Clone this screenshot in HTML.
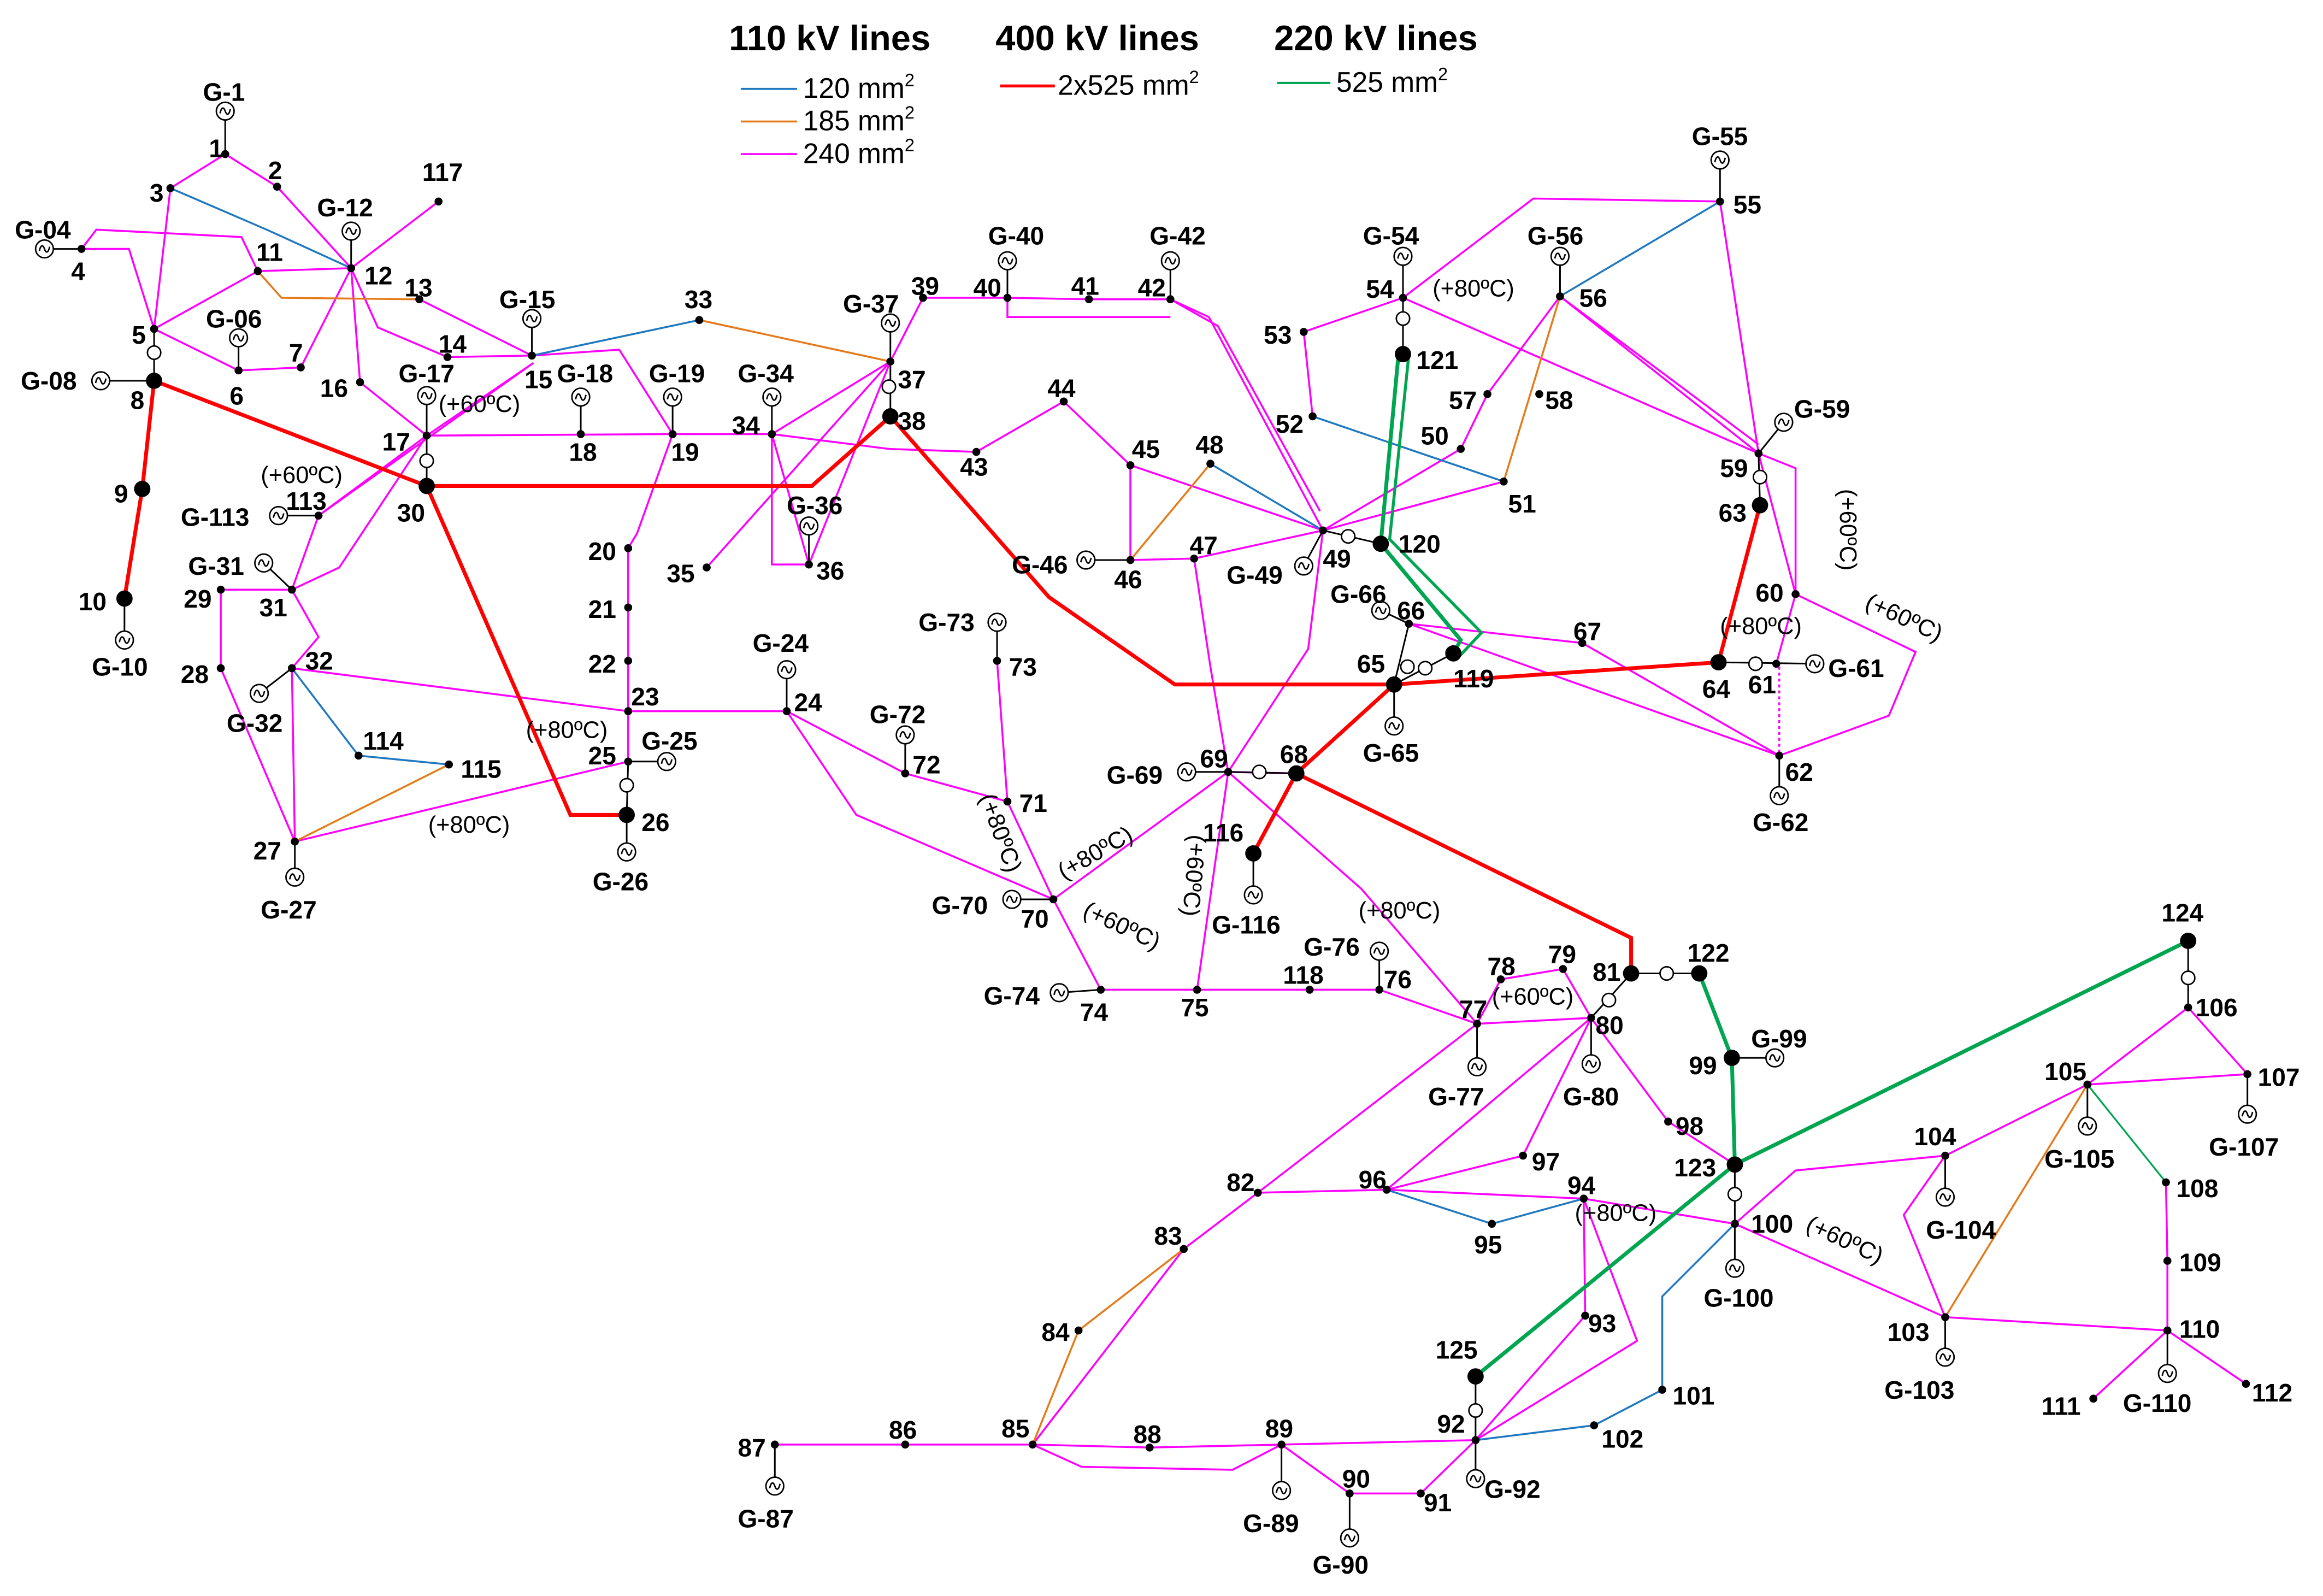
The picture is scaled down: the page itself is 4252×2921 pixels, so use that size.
<!DOCTYPE html>
<html><head><meta charset="utf-8"><style>
html,body{margin:0;padding:0;background:#fff}
svg{display:block}
text{font-family:"Liberation Sans",sans-serif;font-weight:bold;font-size:17px;fill:#000}
.t{font-weight:normal;font-size:16px}
.m{stroke:#f0f;stroke-width:1.3;fill:none}
.b{stroke:#1f78c0;stroke-width:1.3;fill:none}
.o{stroke:#e57a1a;stroke-width:1.3;fill:none}
.r{stroke:#f00;stroke-width:2.6;fill:none}
.g{stroke:#00a550;stroke-width:2.6;fill:none}
.k{stroke:#000;stroke-width:1.1;fill:none}
</style></head><body>
<svg width="4252" height="2921" viewBox="0 0 1568 1077.2" xmlns="http://www.w3.org/2000/svg">
<defs>
<g id="G"><circle r="6" fill="#fff" stroke="#000" stroke-width="1"/><path d="M-3.5,1.5 C-2.5,-3 -1,-3 0,0 C1,3 2.5,3 3.5,-1.5" stroke="#000" stroke-width="1" fill="none"/></g>
<g id="T"><circle r="4.5" fill="#fff" stroke="#000" stroke-width="1"/></g>
</defs>
<!-- legend -->
<text x="492" y="34" style="font-size:24px">110 kV lines</text>
<text x="672" y="34" style="font-size:24px">400 kV lines</text>
<text x="860" y="34" style="font-size:24px">220 kV lines</text>
<line x1="500" y1="60" x2="538" y2="60" class="b"/><text x="542" y="66" class="t" style="font-size:19px">120 mm<tspan dy="-8" font-size="12">2</tspan></text>
<line x1="500" y1="82" x2="538" y2="82" class="o"/><text x="542" y="88" class="t" style="font-size:19px">185 mm<tspan dy="-8" font-size="12">2</tspan></text>
<line x1="500" y1="104" x2="538" y2="104" class="m"/><text x="542" y="110" class="t" style="font-size:19px">240 mm<tspan dy="-8" font-size="12">2</tspan></text>
<line x1="675" y1="58" x2="712" y2="58" class="r" style="stroke-width:2"/><text x="714" y="64" class="t" style="font-size:19px">2x525 mm<tspan dy="-8" font-size="12">2</tspan></text>
<line x1="862" y1="56" x2="898" y2="56" class="g" style="stroke-width:1.5"/><text x="902" y="62" class="t" style="font-size:19px">525 mm<tspan dy="-8" font-size="12">2</tspan></text>

<!-- magenta lines -->
<g class="m">
<polyline points="115,127 152,104 187,126 237,181 296,136"/>
<polyline points="115,127 104,222"/>
<polyline points="55,168 65,155 163,160 174,183 237,181"/>
<polyline points="55,168 87,168 104,222 174,183"/>
<polyline points="104,222 161,250 203,248 237,181 243,258 288,294"/>
<polyline points="237,181 255,221 302,241 359,240"/>
<polyline points="283,202 359,240 418,236 454,293"/>
<polyline points="288,294 454,293 521,293 601,244 623,201 680,201"/>
<polyline points="680,201 680,214 735,214 790,214"/>
<polyline points="680,201 735,202 790,202"/>
<polyline points="790,202 816,214 893,358"/>
<polyline points="790,202 822,220 891,345"/>
<polyline points="521,293 600,303 659,305 718,271 763,314 893,358"/>
<polyline points="763,314 763,378 806,377 893,358"/>
<polyline points="806,377 817,450 829,521 875,522"/>
<polyline points="893,358 883,438 829,521 711,607 743,668 808,668 884,668 931,668 997,691"/>
<polyline points="808,668 829,521"/>
<polyline points="829,521 919,600 997,691"/>
<polyline points="711,607 680,541 673,446"/>
<polyline points="680,541 611,522 531,480 578,550 711,607"/>
<polyline points="424,480 531,480"/>
<polyline points="454,293 430,360 424,370 424,480 424,514"/>
<polyline points="197,451 424,480"/>
<polyline points="199,568 424,514"/>
<polyline points="521,293 521,381 546,381 521,293"/>
<polyline points="477,383 601,244 546,381"/>
<polyline points="215,348 360,245 288,294 229,383 197,398"/>
<polyline points="288,294 215,348 197,398 149,398 149,451 199,568 197,451 215,430 197,398"/>
<polyline points="886,281 880,224 947,201 1035,134 1161,136 1187,306"/>
<polyline points="947,201 1187,306 1053,200"/>
<polyline points="1053,200 1187,300"/>
<polyline points="1053,200 1004,266 986,303 893,358 1015,325"/>
<polyline points="1187,306 1212,316 1212,401 1293,440 1275,483 1201,510"/>
<polyline points="1187,306 1212,401"/>
<polyline points="1212,401 1199,448"/>
<polyline points="951,421 1068,434 1201,510 951,421"/>
<polyline points="997,691 1013,661 1055,654 1074,687 997,691"/>
<polyline points="1074,687 1126,757 1171,786"/>
<polyline points="1074,687 936,803 1028,780 1074,687"/>
<polyline points="997,691 849,805 799,843 697,975 611,975 523,975"/>
<polyline points="697,975 776,977 865,975 996,972 1070,888 1069,809 1105,905 996,972"/>
<polyline points="697,975 730,990 832,992 865,975"/>
<polyline points="865,975 911,1008 959,1008 996,972"/>
<polyline points="849,805 936,803 1069,809 1171,826 1313,889 1463,898 1516,934"/>
<polyline points="1463,898 1413,944"/>
<polyline points="1171,826 1212,790 1313,780 1409,732 1477,680 1517,725 1409,732"/>
<polyline points="1313,780 1285,820 1313,889"/>
<polyline points="1462,798 1463,851 1463,898"/>
</g>
<line x1="1201" y1="450" x2="1201" y2="510" stroke="#f0f" stroke-width="1.3" stroke-dasharray="2,2"/>
<!-- blue -->
<g class="b">
<polyline points="115,127 180,155 237,181"/>
<polyline points="359,240 472,216"/>
<polyline points="197,451 242,510 303,516"/>
<polyline points="886,281 1015,325"/>
<polyline points="817,313 893,358"/>
<polyline points="1053,200 1161,136"/>
<polyline points="936,803 1007,826 1069,809"/>
<polyline points="1171,826 1122,875 1122,938 1076,962 996,972"/>
</g>
<!-- orange -->
<g class="o">
<polyline points="174,183 190,201 283,202"/>
<polyline points="472,216 601,244"/>
<polyline points="199,568 303,516"/>
<polyline points="763,378 817,313"/>
<polyline points="1053,200 1015,325"/>
<polyline points="799,843 728,898 697,975"/>
<polyline points="1409,732 1313,889"/>
</g>
<line x1="1409" y1="732" x2="1462" y2="798" stroke="#00a550" stroke-width="1.2"/>
<!-- green -->
<g class="g">
<polyline points="944,239 932,367 986,432 981,441"/>
<polyline points="951,239 938,364 1000,427 985,443" style="stroke-width:2"/>
<polyline points="1147,657 1169,714 1171,786 1477,635"/>
<polyline points="1171,786 996,929"/>
</g>
<!-- red -->
<g class="r">
<polyline points="84,404 96,330 104,257 288,328 548,328 601,281 708,403 793,462 941,462 1160,447 1188,341"/>
<polyline points="288,328 385,550 423,550"/>
<polyline points="846,576 875,522 941,462"/>
<polyline points="875,522 1101,633 1101,657"/>
</g>
<!-- black connectors -->
<g class="k">
<line x1="152" y1="104" x2="152" y2="75"/>
<line x1="55" y1="168" x2="30" y2="168"/>
<line x1="161" y1="250" x2="161" y2="228"/>
<line x1="104" y1="222" x2="104" y2="257"/>
<line x1="104" y1="257" x2="68" y2="257"/>
<line x1="84" y1="404" x2="84" y2="432"/>
<line x1="237" y1="181" x2="237" y2="156"/>
<line x1="359" y1="240" x2="359" y2="215"/>
<line x1="288" y1="294" x2="288" y2="328"/>
<line x1="288" y1="294" x2="288" y2="267"/>
<line x1="392" y1="293" x2="392" y2="268"/>
<line x1="454" y1="293" x2="454" y2="268"/>
<line x1="521" y1="293" x2="521" y2="268"/>
<line x1="546" y1="381" x2="546" y2="355"/>
<line x1="601" y1="244" x2="601" y2="218"/>
<line x1="601" y1="244" x2="601" y2="281"/>
<line x1="424" y1="514" x2="450" y2="514"/>
<line x1="424" y1="514" x2="423" y2="550"/>
<line x1="423" y1="550" x2="423" y2="575"/>
<line x1="531" y1="480" x2="531" y2="452"/>
<line x1="199" y1="568" x2="199" y2="592"/>
<line x1="197" y1="398" x2="178" y2="380"/>
<line x1="197" y1="451" x2="175" y2="468"/>
<line x1="215" y1="348" x2="188" y2="348"/>
<line x1="680" y1="201" x2="680" y2="176"/>
<line x1="790" y1="202" x2="790" y2="176"/>
<line x1="763" y1="378" x2="733" y2="378"/>
<line x1="893" y1="358" x2="932" y2="367"/>
<line x1="893" y1="358" x2="880" y2="382"/>
<line x1="947" y1="201" x2="947" y2="173"/>
<line x1="947" y1="201" x2="947" y2="239"/>
<line x1="1161" y1="136" x2="1161" y2="108"/>
<line x1="1053" y1="200" x2="1053" y2="173"/>
<line x1="1187" y1="306" x2="1204" y2="285"/>
<line x1="1187" y1="306" x2="1188" y2="341"/>
<line x1="1160" y1="447" x2="1225" y2="448"/>
<line x1="1201" y1="510" x2="1201" y2="537"/>
<line x1="941" y1="462" x2="941" y2="490"/>
<line x1="951" y1="421" x2="932" y2="412"/>
<line x1="951" y1="421" x2="941" y2="462"/>
<line x1="941" y1="462" x2="981" y2="441"/>
<line x1="829" y1="521" x2="875" y2="522"/>
<line x1="829" y1="521" x2="801" y2="521"/>
<line x1="846" y1="576" x2="846" y2="604"/>
<line x1="711" y1="607" x2="683" y2="607"/>
<line x1="611" y1="522" x2="611" y2="496"/>
<line x1="673" y1="446" x2="673" y2="420"/>
<line x1="743" y1="668" x2="715" y2="670"/>
<line x1="931" y1="668" x2="931" y2="642"/>
<line x1="997" y1="691" x2="997" y2="720"/>
<line x1="1074" y1="687" x2="1074" y2="718"/>
<line x1="1074" y1="687" x2="1101" y2="657"/>
<line x1="1101" y1="657" x2="1147" y2="657"/>
<line x1="1169" y1="714" x2="1198" y2="714"/>
<line x1="1171" y1="786" x2="1171" y2="856"/>
<line x1="523" y1="975" x2="523" y2="1003"/>
<line x1="865" y1="975" x2="865" y2="1006"/>
<line x1="911" y1="1008" x2="911" y2="1038"/>
<line x1="996" y1="929" x2="996" y2="998"/>
<line x1="1313" y1="889" x2="1313" y2="916"/>
<line x1="1313" y1="780" x2="1313" y2="808"/>
<line x1="1409" y1="732" x2="1409" y2="760"/>
<line x1="1517" y1="725" x2="1517" y2="752"/>
<line x1="1463" y1="898" x2="1463" y2="927"/>
<line x1="1477" y1="635" x2="1477" y2="680"/>
</g>
<!-- transformers -->
<use href="#T" x="104" y="238"/><use href="#T" x="288" y="311"/><use href="#T" x="423" y="530"/>
<use href="#T" x="600" y="261"/><use href="#T" x="947" y="215"/><use href="#T" x="1188" y="322"/>
<use href="#T" x="910" y="362"/><use href="#T" x="950" y="450"/><use href="#T" x="962" y="451"/>
<use href="#T" x="1185" y="448"/><use href="#T" x="850" y="521"/><use href="#T" x="1125" y="657"/>
<use href="#T" x="1086" y="675"/><use href="#T" x="1477" y="660"/><use href="#T" x="1171" y="806"/>
<use href="#T" x="996" y="952"/>
<!-- generators -->
<g>
<use href="#G" x="152" y="75"/><use href="#G" x="30" y="168"/><use href="#G" x="161" y="228"/><use href="#G" x="68" y="257"/>
<use href="#G" x="84" y="432"/><use href="#G" x="237" y="156"/><use href="#G" x="359" y="215"/><use href="#G" x="288" y="267"/>
<use href="#G" x="392" y="268"/><use href="#G" x="454" y="268"/><use href="#G" x="531" y="452"/><use href="#G" x="450" y="514"/>
<use href="#G" x="423" y="575"/><use href="#G" x="199" y="592"/><use href="#G" x="178" y="380"/><use href="#G" x="175" y="468"/>
<use href="#G" x="521" y="268"/><use href="#G" x="546" y="355"/><use href="#G" x="601" y="218"/><use href="#G" x="680" y="176"/>
<use href="#G" x="790" y="176"/><use href="#G" x="733" y="378"/><use href="#G" x="880" y="382"/><use href="#G" x="947" y="173"/>
<use href="#G" x="1161" y="108"/><use href="#G" x="1053" y="173"/><use href="#G" x="1204" y="285"/><use href="#G" x="1225" y="448"/>
<use href="#G" x="1201" y="537"/><use href="#G" x="941" y="490"/><use href="#G" x="932" y="412"/><use href="#G" x="801" y="521"/>
<use href="#G" x="683" y="607"/><use href="#G" x="611" y="496"/><use href="#G" x="673" y="420"/><use href="#G" x="715" y="670"/>
<use href="#G" x="931" y="642"/><use href="#G" x="997" y="720"/><use href="#G" x="1074" y="718"/><use href="#G" x="523" y="1003"/>
<use href="#G" x="865" y="1006"/><use href="#G" x="911" y="1038"/><use href="#G" x="996" y="998"/><use href="#G" x="1198" y="714"/>
<use href="#G" x="1171" y="856"/><use href="#G" x="1313" y="916"/><use href="#G" x="1313" y="808"/><use href="#G" x="1409" y="760"/>
<use href="#G" x="1517" y="752"/><use href="#G" x="1463" y="927"/><use href="#G" x="188" y="348"/><use href="#G" x="846" y="604"/>
</g>
<!-- nodes -->
<g fill="#000">
<circle cx="152" cy="104" r="2.7"/><circle cx="187" cy="126" r="2.7"/><circle cx="115" cy="127" r="2.7"/><circle cx="55" cy="168" r="2.7"/>
<circle cx="104" cy="222" r="2.7"/><circle cx="161" cy="250" r="2.7"/><circle cx="203" cy="248" r="2.7"/><circle cx="174" cy="183" r="2.7"/>
<circle cx="237" cy="181" r="2.7"/><circle cx="283" cy="202" r="2.7"/><circle cx="302" cy="241" r="2.7"/><circle cx="359" cy="240" r="2.7"/>
<circle cx="243" cy="258" r="2.7"/><circle cx="288" cy="294" r="2.7"/><circle cx="392" cy="293" r="2.7"/><circle cx="454" cy="293" r="2.7"/>
<circle cx="424" cy="370" r="2.7"/><circle cx="424" cy="410" r="2.7"/><circle cx="424" cy="446" r="2.7"/><circle cx="424" cy="480" r="2.7"/>
<circle cx="531" cy="480" r="2.7"/><circle cx="424" cy="514" r="2.7"/><circle cx="199" cy="568" r="2.7"/><circle cx="149" cy="451" r="2.7"/>
<circle cx="149" cy="398" r="2.7"/><circle cx="197" cy="398" r="2.7"/><circle cx="197" cy="451" r="2.7"/><circle cx="472" cy="216" r="2.7"/>
<circle cx="521" cy="293" r="2.7"/><circle cx="477" cy="383" r="2.7"/><circle cx="546" cy="381" r="2.7"/><circle cx="601" cy="244" r="2.7"/>
<circle cx="623" cy="201" r="2.7"/><circle cx="680" cy="201" r="2.7"/><circle cx="735" cy="202" r="2.7"/><circle cx="790" cy="202" r="2.7"/>
<circle cx="659" cy="305" r="2.7"/><circle cx="718" cy="271" r="2.7"/><circle cx="763" cy="314" r="2.7"/><circle cx="763" cy="378" r="2.7"/>
<circle cx="806" cy="377" r="2.7"/><circle cx="817" cy="313" r="2.7"/><circle cx="893" cy="358" r="2.7"/><circle cx="986" cy="303" r="2.7"/>
<circle cx="1015" cy="325" r="2.7"/><circle cx="886" cy="281" r="2.7"/><circle cx="880" cy="224" r="2.7"/><circle cx="947" cy="201" r="2.7"/>
<circle cx="1161" cy="136" r="2.7"/><circle cx="1053" cy="200" r="2.7"/><circle cx="1004" cy="266" r="2.7"/><circle cx="1039" cy="266" r="2.7"/>
<circle cx="1187" cy="306" r="2.7"/><circle cx="1212" cy="401" r="2.7"/><circle cx="1199" cy="448" r="2.7"/><circle cx="1201" cy="510" r="2.7"/>
<circle cx="951" cy="421" r="2.7"/><circle cx="1068" cy="434" r="2.7"/><circle cx="829" cy="521" r="2.7"/><circle cx="711" cy="607" r="2.7"/>
<circle cx="680" cy="541" r="2.7"/><circle cx="611" cy="522" r="2.7"/><circle cx="673" cy="446" r="2.7"/><circle cx="743" cy="668" r="2.7"/>
<circle cx="808" cy="668" r="2.7"/><circle cx="931" cy="668" r="2.7"/><circle cx="997" cy="691" r="2.7"/><circle cx="1013" cy="661" r="2.7"/>
<circle cx="1055" cy="654" r="2.7"/><circle cx="1074" cy="687" r="2.7"/><circle cx="849" cy="805" r="2.7"/><circle cx="799" cy="843" r="2.7"/>
<circle cx="728" cy="898" r="2.7"/><circle cx="697" cy="975" r="2.7"/><circle cx="611" cy="975" r="2.7"/><circle cx="523" cy="975" r="2.7"/>
<circle cx="776" cy="977" r="2.7"/><circle cx="865" cy="975" r="2.7"/><circle cx="911" cy="1008" r="2.7"/><circle cx="959" cy="1008" r="2.7"/>
<circle cx="996" cy="972" r="2.7"/><circle cx="1070" cy="888" r="2.7"/><circle cx="1069" cy="809" r="2.7"/><circle cx="1007" cy="826" r="2.7"/>
<circle cx="936" cy="803" r="2.7"/><circle cx="1028" cy="780" r="2.7"/><circle cx="1126" cy="757" r="2.7"/><circle cx="1171" cy="826" r="2.7"/>
<circle cx="1122" cy="938" r="2.7"/><circle cx="1076" cy="962" r="2.7"/><circle cx="1313" cy="889" r="2.7"/><circle cx="1313" cy="780" r="2.7"/>
<circle cx="1409" cy="732" r="2.7"/><circle cx="1477" cy="680" r="2.7"/><circle cx="1517" cy="725" r="2.7"/><circle cx="1462" cy="798" r="2.7"/>
<circle cx="1463" cy="851" r="2.7"/><circle cx="1463" cy="898" r="2.7"/><circle cx="1413" cy="944" r="2.7"/><circle cx="1516" cy="934" r="2.7"/>
<circle cx="215" cy="348" r="2.7"/><circle cx="242" cy="510" r="2.7"/><circle cx="303" cy="516" r="2.7"/><circle cx="296" cy="136" r="2.7"/>
<circle cx="884" cy="668" r="2.7"/>
<circle cx="104" cy="257" r="5.5"/><circle cx="96" cy="330" r="5.5"/><circle cx="84" cy="404" r="5.5"/><circle cx="423" cy="550" r="5.5"/>
<circle cx="288" cy="328" r="5.5"/><circle cx="601" cy="281" r="5.5"/><circle cx="1188" cy="341" r="5.5"/><circle cx="1160" cy="447" r="5.5"/>
<circle cx="941" cy="462" r="5.5"/><circle cx="875" cy="522" r="5.5"/><circle cx="1101" cy="657" r="5.5"/><circle cx="1169" cy="714" r="5.5"/>
<circle cx="846" cy="576" r="5.5"/><circle cx="981" cy="441" r="5.5"/><circle cx="932" cy="367" r="5.5"/><circle cx="947" cy="239" r="5.5"/>
<circle cx="1147" cy="657" r="5.5"/><circle cx="1171" cy="786" r="5.5"/><circle cx="1477" cy="635" r="5.5"/><circle cx="996" cy="929" r="5.5"/>
</g>
<!-- labels -->
<g>
<text x="137" y="68">G-1</text><text x="141" y="106">1</text><text x="181" y="121">2</text><text x="101" y="136">3</text>
<text x="10" y="161">G-04</text><text x="48" y="189">4</text><text x="89" y="232">5</text><text x="155" y="273">6</text>
<text x="195" y="244">7</text><text x="14" y="263">G-08</text><text x="88" y="276">8</text><text x="77" y="339">9</text>
<text x="53" y="412">10</text><text x="62" y="456">G-10</text><text x="173" y="176">11</text><text x="246" y="192">12</text>
<text x="273" y="200">13</text><text x="296" y="238">14</text><text x="354" y="262">15</text><text x="216" y="268">16</text>
<text x="258" y="304">17</text><text x="269" y="258">G-17</text><text x="285" y="122">117</text><text x="214" y="146">G-12</text>
<text x="337" y="208">G-15</text><text x="139" y="221">G-06</text><text x="376" y="258">G-18</text><text x="384" y="311">18</text>
<text x="438" y="258">G-19</text><text x="453" y="311">19</text><text x="397" y="378">20</text><text x="397" y="417">21</text>
<text x="397" y="454">22</text><text x="426" y="476">23</text><text x="397" y="516">25</text><text x="433" y="506">G-25</text>
<text x="433" y="561">26</text><text x="400" y="601">G-26</text><text x="508" y="440">G-24</text><text x="536" y="480">24</text>
<text x="171" y="580">27</text><text x="176" y="620">G-27</text><text x="122" y="461">28</text><text x="124" y="410">29</text>
<text x="268" y="352">30</text><text x="175" y="416">31</text><text x="206" y="452">32</text><text x="153" y="494">G-32</text>
<text x="127" y="388">G-31</text><text x="122" y="355">G-113</text><text x="193" y="344">113</text><text x="245" y="506">114</text>
<text x="311" y="525">115</text><text x="462" y="208">33</text><text x="494" y="293">34</text><text x="498" y="258">G-34</text>
<text x="450" y="393">35</text><text x="551" y="391">36</text><text x="531" y="347">G-36</text><text x="606" y="262">37</text>
<text x="569" y="211">G-37</text><text x="606" y="290">38</text><text x="615" y="199">39</text><text x="657" y="200">40</text>
<text x="667" y="165">G-40</text><text x="723" y="199">41</text><text x="768" y="200">42</text><text x="776" y="165">G-42</text>
<text x="648" y="321">43</text><text x="707" y="268">44</text><text x="764" y="309">45</text><text x="752" y="397">46</text>
<text x="683" y="387">G-46</text><text x="803" y="374">47</text><text x="807" y="306">48</text><text x="828" y="394">G-49</text>
<text x="893" y="383">49</text><text x="959" y="300">50</text><text x="1018" y="346">51</text><text x="861" y="292">52</text>
<text x="853" y="232">53</text><text x="922" y="201">54</text><text x="920" y="165">G-54</text><text x="1170" y="144">55</text>
<text x="1142" y="98">G-55</text><text x="1066" y="207">56</text><text x="1031" y="165">G-56</text><text x="978" y="276">57</text>
<text x="1043" y="276">58</text><text x="1161" y="322">59</text><text x="1211" y="282">G-59</text><text x="1185" y="406">60</text>
<text x="1180" y="468">61</text><text x="1234" y="457">G-61</text><text x="1205" y="527">62</text><text x="1183" y="561">G-62</text>
<text x="1160" y="352">63</text><text x="1149" y="471">64</text><text x="916" y="454">65</text><text x="920" y="514">G-65</text>
<text x="943" y="418">66</text><text x="898" y="407">G-66</text><text x="1062" y="432">67</text><text x="864" y="515">68</text>
<text x="810" y="518">69</text><text x="747" y="529">G-69</text><text x="689" y="626">70</text><text x="629" y="617">G-70</text>
<text x="688" y="548">71</text><text x="616" y="522">72</text><text x="587" y="488">G-72</text><text x="681" y="456">73</text>
<text x="620" y="426">G-73</text><text x="729" y="689">74</text><text x="664" y="678">G-74</text><text x="797" y="686">75</text>
<text x="934" y="667">76</text><text x="880" y="645">G-76</text><text x="985" y="687">77</text><text x="964" y="746">G-77</text>
<text x="1004" y="658">78</text><text x="1045" y="650">79</text><text x="1077" y="698">80</text><text x="1055" y="746">G-80</text>
<text x="1075" y="662">81</text><text x="828" y="804">82</text><text x="779" y="840">83</text><text x="703" y="905">84</text>
<text x="676" y="970">85</text><text x="600" y="971">86</text><text x="498" y="983">87</text><text x="498" y="1031">G-87</text>
<text x="765" y="974">88</text><text x="854" y="970">89</text><text x="839" y="1034">G-89</text><text x="906" y="1004">90</text>
<text x="886" y="1062">G-90</text>
<text x="961" y="1020">91</text><text x="970" y="967">92</text><text x="1002" y="1011">G-92</text><text x="1072" y="899">93</text>
<text x="1058" y="806">94</text><text x="995" y="846">95</text><text x="917" y="802">96</text><text x="1034" y="790">97</text>
<text x="1131" y="766">98</text><text x="1140" y="725">99</text><text x="1182" y="707">G-99</text><text x="1182" y="832">100</text>
<text x="1150" y="882">G-100</text><text x="1129" y="948">101</text><text x="1081" y="977">102</text><text x="1274" y="905">103</text>
<text x="1272" y="944">G-103</text><text x="1292" y="773">104</text><text x="1300" y="836">G-104</text><text x="1380" y="729">105</text>
<text x="1380" y="788">G-105</text><text x="1482" y="686">106</text><text x="1524" y="733">107</text><text x="1491" y="780">G-107</text>
<text x="1469" y="808">108</text><text x="1471" y="858">109</text><text x="1471" y="903">110</text><text x="1433" y="953">G-110</text>
<text x="1378" y="955">111</text><text x="1520" y="946">112</text><text x="812" y="568">116</text><text x="818" y="630">G-116</text>
<text x="866" y="664">118</text><text x="981" y="464">119</text><text x="944" y="373">120</text><text x="956" y="249">121</text>
<text x="1139" y="649">122</text><text x="1130" y="794">123</text><text x="1459" y="622">124</text><text x="969" y="917">125</text>
</g>
<!-- thermal annotations -->
<g class="t">
<text x="296" y="278" class="t">(+60ºC)</text>
<text x="176" y="326" class="t">(+60ºC)</text>
<text x="355" y="498" class="t">(+80ºC)</text>
<text x="289" y="562" class="t">(+80ºC)</text>
<text x="967" y="200" class="t">(+80ºC)</text>
<text x="1161" y="428" class="t">(+80ºC)</text>
<text x="1007" y="678" class="t">(+60ºC)</text>
<text x="917" y="620" class="t">(+80ºC)</text>
<text x="1063" y="824" class="t">(+80ºC)</text>
<text class="t" transform="translate(1242,330) rotate(90)">(+60ºC)</text>
<text class="t" transform="translate(1258,410) rotate(25)">(+60ºC)</text>
<text class="t" transform="translate(661,538) rotate(70)">(+80ºC)</text>
<text class="t" transform="translate(718,594) rotate(-30)">(+80ºC)</text>
<text class="t" transform="translate(730,618) rotate(25)">(+60ºC)</text>
<text class="t" transform="translate(803,563) rotate(95)">(+60ºC)</text>
<text class="t" transform="translate(1218,830) rotate(25)">(+60ºC)</text>
</g>
</svg>
</body></html>
